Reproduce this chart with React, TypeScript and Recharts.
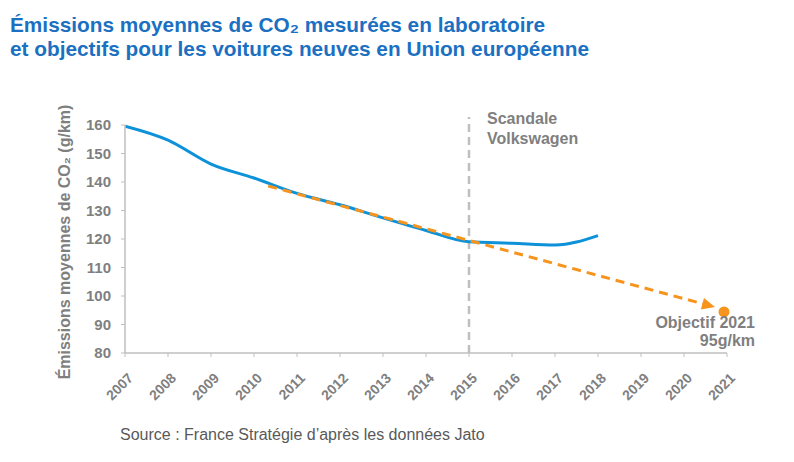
import { LineChart, Line, XAxis, YAxis, ReferenceLine, ReferenceDot } from 'recharts';

const years = [2007, 2008, 2009, 2010, 2011, 2012, 2013, 2014, 2015, 2016, 2017, 2018, 2019, 2020, 2021];
const yTicks = [80, 90, 100, 110, 120, 130, 140, 150, 160];

const measuredYears = [2007, 2008, 2009, 2010, 2011, 2012, 2013, 2014, 2015, 2016, 2017, 2018];
const measuredCo2 = [159.6, 154.7, 146.3, 141.4, 136, 132, 127.4, 123, 119, 118.5, 117.9, 121.2];

const trendYears = [2010.33, 2020.72];
const trendCo2 = [138.6, 96.1];

const targetYear = 2020.93;
const targetCo2 = 94.4;
const scandalYear = 2015;

const measured = measuredYears.map((year, i) => ({ year, co2: measuredCo2[i] }));
const trend = trendYears.map((year, i) => ({ year, co2: trendCo2[i] }));

const GREY = '#7F7F7F';
const BLUE = '#0D91D9';
const ORANGE = '#F7941D';
const FONT = '"Liberation Sans", Arial, sans-serif';

function XTick({ x, y, payload }: any) {
  return (
    <g transform={`translate(${x + 9},${y + 20}) rotate(-45)`}>
      <text textAnchor="end" fill={GREY} fontSize={14} fontWeight="bold" fontFamily={FONT}>
        {payload.value}
      </text>
    </g>
  );
}

// arrow head drawn at the last point of the trend line
let firstPt = { x: 0, y: 0 };
function TrendArrow(props: any) {
  const { cx, cy, index } = props;
  if (index === 0) {
    firstPt = { x: cx, y: cy };
    return <g key={index} />;
  }
  const a = Math.atan2(cy - firstPt.y, cx - firstPt.x);
  const len = 13;
  const w = 6;
  const bx = cx - len * Math.cos(a);
  const by = cy - len * Math.sin(a);
  const px = -Math.sin(a) * w;
  const py = Math.cos(a) * w;
  return (
    <polygon
      key={index}
      points={`${cx},${cy} ${bx + px},${by + py} ${bx - px},${by - py}`}
      fill={ORANGE}
    />
  );
}

export default function App() {
  return (
    <div style={{ position: 'absolute', left: 0, top: 0, width: 794, height: 462, background: '#fff', fontFamily: FONT }}>
      <div
        style={{
          position: 'absolute',
          left: 10,
          top: 13,
          color: '#1B70C2',
          fontWeight: 'bold',
          fontSize: 20.8,
          lineHeight: '24px',
        }}
      >
        Émissions moyennes de CO₂ mesurées en laboratoire
        <br />
        et objectifs pour les voitures neuves en Union européenne
      </div>

      <LineChart
        width={794}
        height={462}
        margin={{ top: 125, right: 67, left: 65, bottom: 59 }}
      >
        <XAxis
          dataKey="year"
          type="number"
          domain={[2007, 2021]}
          ticks={years}
          interval={0}
          allowDataOverflow
          tick={<XTick />}
          axisLine={{ stroke: '#BFBFBF', strokeWidth: 1.5 }}
          tickLine={{ stroke: '#BFBFBF' }}
          tickSize={4}
          height={50}
        />
        <YAxis
          type="number"
          domain={[80, 160]}
          ticks={yTicks}
          interval={0}
          width={60}
          tick={{ fill: GREY, fontSize: 15, fontWeight: 'bold', fontFamily: FONT }}
          axisLine={{ stroke: '#BFBFBF', strokeWidth: 1.5 }}
          tickLine={{ stroke: '#BFBFBF' }}
          tickSize={4}
          tickMargin={10}
        />
        <ReferenceLine
          segment={[{ x: scandalYear, y: 80 }, { x: scandalYear, y: 162.8 }]}
          ifOverflow="visible"
          stroke="#BFBFBF"
          strokeWidth={2.5}
          strokeDasharray="8 5"
        />
        <Line
          data={measured}
          dataKey="co2"
          type="monotone"
          stroke={BLUE}
          strokeWidth={3}
          dot={false}
          isAnimationActive={false}
        />
        <Line
          data={trend}
          dataKey="co2"
          type="linear"
          stroke={ORANGE}
          strokeWidth={3}
          strokeDasharray="9 6"
          dot={<TrendArrow />}
          isAnimationActive={false}
        />
        <ReferenceDot x={targetYear} y={targetCo2} r={5.5} fill={ORANGE} stroke="none" ifOverflow="visible" />
      </LineChart>

      <div style={{ position: 'absolute', left: 65, top: 242, width: 0, height: 0 }}>
        <div
          style={{
            position: 'absolute',
            left: 0,
            top: 0,
            transform: 'translate(-50%, -50%) rotate(-90deg)',
            whiteSpace: 'nowrap',
            color: GREY,
            fontWeight: 'bold',
            fontSize: 16,
          }}
        >
          Émissions moyennes de CO₂ (g/km)
        </div>
      </div>

      <div
        style={{
          position: 'absolute',
          left: 487,
          top: 109,
          color: GREY,
          fontWeight: 'bold',
          fontSize: 16,
          lineHeight: '20px',
        }}
      >
        Scandale
        <br />
        Volkswagen
      </div>

      <div
        style={{
          position: 'absolute',
          right: 39,
          top: 314,
          color: GREY,
          fontWeight: 'bold',
          fontSize: 16,
          lineHeight: '18px',
          textAlign: 'right',
        }}
      >
        Objectif 2021
        <br />
        95g/km
      </div>

      <div
        style={{
          position: 'absolute',
          left: 120,
          top: 426,
          color: '#595959',
          fontSize: 16,
        }}
      >
        Source : France Stratégie d’après les données Jato
      </div>
    </div>
  );
}
